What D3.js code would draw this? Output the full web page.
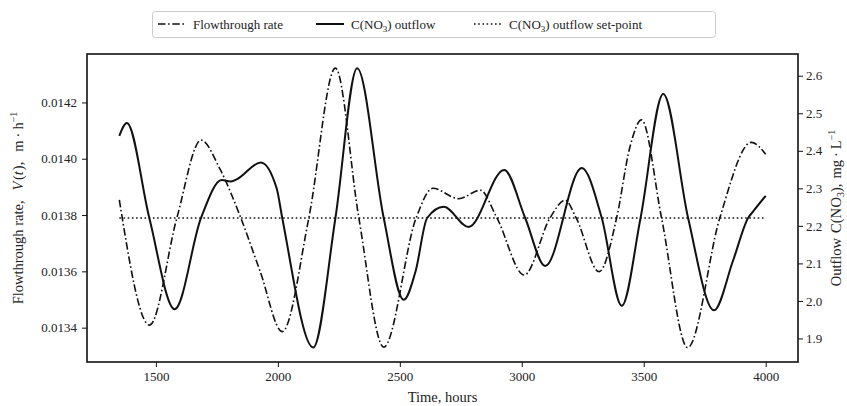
<!DOCTYPE html>
<html>
<head>
<meta charset="utf-8">
<script src="https://cdn.jsdelivr.net/npm/d3@7"></script>
<style>
body { margin: 0; background: #fff; }
text { font-family: "Liberation Serif", "Times New Roman", serif; fill: #222; }
</style>
</head>
<body>
<svg width="847" height="406"></svg>
<script>
// flowthrough rate V(t), m/h (left axis)
var flowHours = [1350, 1474, 1586, 1685, 1763, 1848, 1927, 2018, 2127, 2236, 2332, 2434,
                 2567, 2635, 2741, 2830, 2898, 3010, 3116, 3178, 3223, 3317, 3389, 3443,
                 3491, 3573, 3680, 3812, 3941, 4000]
var flowRate = [0.013854, 0.013409, 0.01379, 0.014066, 0.013963, 0.01379, 0.013601, 0.013386,
                0.01379, 0.014322, 0.01379, 0.013331, 0.01379, 0.013895, 0.013858, 0.013888,
                0.01379, 0.013587, 0.01379, 0.013853, 0.01379, 0.013599, 0.01379, 0.01404,
                0.014138, 0.01379, 0.013329, 0.01379, 0.014058, 0.014016]

// C(NO3) outflow, mg/L (right axis)
var outHours = [1350, 1381, 1473, 1577, 1685, 1770, 1805, 1831, 1930, 1995, 2018, 2145, 2236,
                2325, 2434, 2516, 2565, 2612, 2680, 2782, 2928, 3014, 3096, 3246, 3328, 3410,
                3487, 3580, 3682, 3788, 3866, 3928, 3948, 4000]
var outConc = [2.44, 2.474, 2.221, 1.978, 2.221, 2.322, 2.318, 2.324, 2.369, 2.30, 2.221, 1.876,
               2.221, 2.62, 2.221, 2.003, 2.08, 2.221, 2.251, 2.197, 2.349, 2.221, 2.093, 2.354,
               2.221, 1.987, 2.221, 2.551, 2.221, 1.975, 2.107, 2.221, 2.238, 2.28]

// set-point (right axis)
var setHours = [1350, 4000]
var setConc = [2.221, 2.221]

var xTicks = [1500, 2000, 2500, 3000, 3500, 4000]
var leftTicks = [0.0134, 0.0136, 0.0138, 0.0140, 0.0142]
var rightTicks = [1.9, 2.0, 2.1, 2.2, 2.3, 2.4, 2.5, 2.6]

var svg = d3.select('svg')
  , W = 847, H = 406
  , m = { top: 54, right: 49, bottom: 44, left: 87 }

var x = d3.scaleLinear().domain([1217.5, 4132.5]).range([m.left, W - m.right])
var yL = d3.scaleLinear().domain([0.013278, 0.014372]).range([H - m.bottom, m.top])
var yR = d3.scaleLinear().domain([1.8373, 2.6579]).range([H - m.bottom, m.top])

function zip(a, b) { return a.map(function (d, i) { return [d, b[i]] }) }

var lineL = d3.line().x(function (d) { return x(d[0]) }).y(function (d) { return yL(d[1]) })
  .curve(d3.curveMonotoneX)
var lineR = d3.line().x(function (d) { return x(d[0]) }).y(function (d) { return yR(d[1]) })
  .curve(d3.curveMonotoneX)

svg.append('path').datum(zip(setHours, setConc)).attr('d', lineR)
  .attr('fill', 'none').attr('stroke', '#111').attr('stroke-width', 1.6)
  .attr('stroke-dasharray', '1.6,2.6')

svg.append('path').datum(zip(flowHours, flowRate)).attr('d', lineL)
  .attr('fill', 'none').attr('stroke', '#111').attr('stroke-width', 1.6)
  .attr('stroke-dasharray', '7.5,2.6,1.6,2.6')

svg.append('path').datum(zip(outHours, outConc)).attr('d', lineR)
  .attr('fill', 'none').attr('stroke', '#111').attr('stroke-width', 2)

// axes
function styleAxis(g) {
  g.select('.domain').remove()
  g.selectAll('line').attr('stroke', '#111').attr('stroke-width', 1)
  g.selectAll('text').attr('font-size', 13).attr('fill', '#222')
    .style('font-family', '"Liberation Serif", serif')
}

svg.append('g').attr('transform', 'translate(0,' + (H - m.bottom) + ')')
  .call(d3.axisBottom(x).tickValues(xTicks).tickFormat(d3.format('d')).tickSize(5).tickPadding(5))
  .call(styleAxis)
svg.append('g').attr('transform', 'translate(' + m.left + ',0)')
  .call(d3.axisLeft(yL).tickValues(leftTicks).tickFormat(d3.format('.4f')).tickSize(5).tickPadding(5))
  .call(styleAxis)
svg.append('g').attr('transform', 'translate(' + (W - m.right) + ',0)')
  .call(d3.axisRight(yR).tickValues(rightTicks).tickFormat(d3.format('.1f')).tickSize(5).tickPadding(3))
  .call(styleAxis)

svg.append('rect').attr('x', m.left).attr('y', m.top)
  .attr('width', W - m.left - m.right).attr('height', H - m.top - m.bottom)
  .attr('fill', 'none').attr('stroke', '#111').attr('stroke-width', 1.6)

// axis labels
svg.append('text').attr('x', (m.left + W - m.right) / 2).attr('y', 402)
  .attr('text-anchor', 'middle').attr('font-size', 14.5).text('Time, hours')

var ly = svg.append('text').attr('transform', 'translate(23,' + ((m.top + H - m.bottom) / 2) + ') rotate(-90)')
  .attr('text-anchor', 'middle').attr('font-size', 14.5)
ly.append('tspan').text('Flowthrough rate,')
ly.append('tspan').attr('dx', 10).attr('font-style', 'italic').text('V')
ly.append('tspan').attr('dx', 1.5).text('(')
ly.append('tspan').attr('font-style', 'italic').text('t')
ly.append('tspan').attr('dx', 1).text('),')
ly.append('tspan').attr('dx', 10).text('m')
ly.append('tspan').attr('dx', 3).text('·')
ly.append('tspan').attr('dx', 3).text('h')
ly.append('tspan').attr('font-size', 10).attr('dy', -6).text('−1')

var ry = svg.append('text').attr('transform', 'translate(841,' + ((m.top + H - m.bottom) / 2) + ') rotate(-90)')
  .attr('text-anchor', 'middle').attr('font-size', 14.5)
ry.append('tspan').text('Outflow')
ry.append('tspan').attr('dx', 5).text('C(N')
ry.append('tspan').attr('dx', 0.5).text('O')
ry.append('tspan').attr('font-size', 10).attr('dy', 3).text('3')
ry.append('tspan').attr('dy', -3).text('),')
ry.append('tspan').attr('dx', 5).text('mg')
ry.append('tspan').attr('dx', 3).text('·')
ry.append('tspan').attr('dx', 3).text('L')
ry.append('tspan').attr('font-size', 10).attr('dy', -6).text('−1')

// legend
var lg = svg.append('g')
lg.append('rect').attr('x', 152.5).attr('y', 11.5).attr('width', 563).attr('height', 26).attr('rx', 3)
  .attr('fill', '#fff').attr('stroke', '#ccc').attr('stroke-width', 1)

var entries = [
  { x: 158, dash: '7.5,2.6,1.6,2.6', w: 1.6, label: ['Flowthrough rate'] },
  { x: 316, dash: null, w: 2, label: ['C(NO', '3', ') outflow'] },
  { x: 474, dash: '1.6,2.6', w: 1.6, label: ['C(NO', '3', ') outflow set-point'] }
]
entries.forEach(function (e) {
  lg.append('line').attr('x1', e.x).attr('x2', e.x + 28).attr('y1', 24).attr('y2', 24)
    .attr('stroke', '#111').attr('stroke-width', e.w).attr('stroke-dasharray', e.dash)
  var t = lg.append('text').attr('x', e.x + 35).attr('y', 28.5).attr('font-size', 13)
  t.append('tspan').text(e.label[0])
  if (e.label.length > 1) {
    t.append('tspan').attr('font-size', 9).attr('dy', 3).text(e.label[1])
    t.append('tspan').attr('dy', -3).text(e.label[2])
  }
})
</script>
</body>
</html>
